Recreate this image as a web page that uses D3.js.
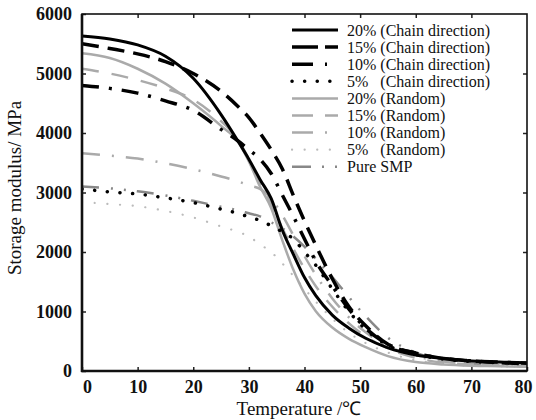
<!DOCTYPE html>
<html>
<head>
<meta charset="utf-8">
<script src="https://cdn.jsdelivr.net/npm/d3@7"></script>
<style>
html,body{margin:0;padding:0;background:#fff;}
svg{display:block;}
text{font-family:"Liberation Serif","Times New Roman",serif;fill:#111;}
</style>
</head>
<body>
<svg id="chart" width="536" height="420"></svg>
<script>
// ---- data ----
const temps = [0,5,10,15,20,25,28,30,32,34,36,38,40,42,45,48,51,55,60,65,70,75,80];
const chain20  = [5630,5580,5480,5290,4920,4310,3870,3560,3220,2900,2370,1960,1570,1270,940,720,550,390,270,210,170,150,140];
const chain15  = [5500,5420,5330,5200,5000,4700,4450,4260,4000,3720,3400,2950,2520,2120,1550,1080,760,450,300,210,170,140,120];
const chain10  = [4800,4750,4670,4540,4380,4060,3870,3720,3560,3320,2960,2600,2220,1850,1430,1040,720,450,300,210,170,150,130];
const chain5   = [3060,3010,2975,2910,2830,2720,2650,2590,2530,2440,2340,2220,2000,1780,1380,1000,700,430,280,200,160,140,130];
const random20 = [5340,5260,5080,4830,4500,4120,3860,3520,3100,2740,2200,1700,1300,1010,730,540,400,250,150,110,90,80,70];
const random15 = [5080,5000,4890,4750,4560,4200,3900,3560,3180,2800,2400,2050,1720,1430,1080,800,580,380,220,140,110,90,80];
const random10 = [3660,3620,3570,3490,3390,3270,3190,3120,3060,2900,2620,2280,1930,1620,1220,900,650,420,250,160,120,100,90];
const random5  = [2840,2805,2770,2690,2580,2430,2340,2260,2130,2000,1810,1600,1380,1170,880,640,470,310,180,120,90,80,70];
const pureSMP  = [3100,3070,3020,2950,2860,2760,2700,2650,2600,2500,2400,2260,2090,1890,1580,1240,920,560,310,180,120,90,80];

const seriesNames = ["20% (Chain direction)","15% (Chain direction)","10% (Chain direction)","5%   (Chain direction)",
  "20% (Random)","15% (Random)","10% (Random)","5%   (Random)","Pure SMP"];
const seriesValues = [chain20,chain15,chain10,chain5,random20,random15,random10,random5,pureSMP];
const xTicks = [0,10,20,30,40,50,60,70,80];
const yTicks = [0,1000,2000,3000,4000,5000,6000];
const xTitle = "Temperature /℃";
const yTitle = "Storage modulus/ MPa";

// ---- styles ----
const styles = [
  {color:"#000", width:3,   dash:null,               legendDash:null,           cap:"butt"},
  {color:"#000", width:3.5, dash:"17,9",             legendDash:"26,7",         cap:"butt"},
  {color:"#000", width:3.5, dash:"17,10,3,10",       legendDash:"21,12,2,12",   cap:"butt"},
  {color:"#000", width:3.5, dash:"0.1,12.6",         legendDash:"0.1,12.5",     cap:"round"},
  {color:"#aaa", width:2.5, dash:null,               legendDash:null,           cap:"butt"},
  {color:"#aaa", width:2.5, dash:"17,13",            legendDash:"21,12",        cap:"butt"},
  {color:"#aaa", width:2.5, dash:"18,12,2,12",       legendDash:"21,12,2,12",   cap:"butt"},
  {color:"#bbb", width:2.2, dash:"0.1,12.6",         legendDash:"0.1,12.5",     cap:"round"},
  {color:"#888", width:2.5, dash:"17,12,2,11,2,11",  legendDash:"19,11,2,11,2,11", cap:"butt"}
];

const svg = d3.select("#chart");
const L = 82, R = 527, T = 14, B = 371;
const x = d3.scaleLinear().domain([0,80]).range([L,R]);
const y = d3.scaleLinear().domain([0,6000]).range([B,T]);

svg.append("clipPath").attr("id","clip").append("rect")
  .attr("x",L).attr("y",T).attr("width",R-L).attr("height",B-T);

const line = d3.line().x((d,i)=>x(temps[i])).y(d=>y(d)).curve(d3.curveMonotoneX);

const lines = svg.append("g").attr("clip-path","url(#clip)");
for (let k = seriesValues.length-1; k >= 0; k--) {
  const s = styles[k];
  lines.append("path")
    .datum(seriesValues[k])
    .attr("d", line)
    .attr("fill","none")
    .attr("stroke", s.color)
    .attr("stroke-width", s.width)
    .attr("stroke-linecap", s.cap)
    .attr("stroke-dasharray", s.dash);
}

// axes
const fs = 18;
const fmt = d3.format("d");
const xAxis = svg.append("g").attr("transform",`translate(0,${B})`)
  .call(d3.axisBottom(x).tickValues(xTicks).tickFormat(fmt).tickSizeInner(-4).tickSizeOuter(0).tickPadding(9));
xAxis.attr("font-family",null).attr("font-size",null);
xAxis.selectAll("text").style("font-size",fs+"px").style("font-weight","bold")
  .attr("dx",(d)=> d===0 ? 5 : (d===80 ? -4 : 0));
const yAxis = svg.append("g").attr("transform",`translate(${L},0)`)
  .call(d3.axisLeft(y).tickValues(yTicks).tickFormat(fmt).tickSizeInner(-4).tickSizeOuter(0).tickPadding(10));
yAxis.attr("font-family",null).attr("font-size",null);
yAxis.selectAll("text").style("font-size",fs+"px").style("font-weight","bold");
svg.append("g").attr("transform",`translate(0,${T})`)
  .call(d3.axisTop(x).tickValues(xTicks.slice(1,-1)).tickSizeInner(-4).tickSizeOuter(0).tickFormat(""));
svg.append("g").attr("transform",`translate(${R},0)`)
  .call(d3.axisRight(y).tickValues(yTicks.slice(1,-1)).tickSizeInner(-4).tickSizeOuter(0).tickFormat(""));
svg.selectAll(".domain").remove();
svg.selectAll(".tick line").attr("stroke","#222").attr("stroke-width",1.5);

// frame
svg.append("rect").attr("x",L).attr("y",T).attr("width",R-L).attr("height",B-T)
  .attr("fill","none").attr("stroke","#111").attr("stroke-width",1.6);
svg.append("line").attr("x1",L).attr("x2",L).attr("y1",T).attr("y2",B+1).attr("stroke","#111").attr("stroke-width",2.6);
svg.append("line").attr("x1",L-1).attr("x2",R).attr("y1",B).attr("y2",B).attr("stroke","#111").attr("stroke-width",2.6);

// titles
svg.append("text").attr("x",299).attr("y",415).attr("text-anchor","middle")
  .style("font-size","19px").text(xTitle);
svg.append("text").attr("transform","translate(21,188) rotate(-90)").attr("text-anchor","middle")
  .style("font-size","19px").text(yTitle);

// legend
const lg = svg.append("g");
seriesNames.forEach((name,i)=>{
  const ry = 30 + i*17.1;
  const s = styles[i];
  lg.append("line").attr("x1",292).attr("x2",338).attr("y1",ry).attr("y2",ry)
    .attr("stroke",s.color).attr("stroke-width",s.width)
    .attr("stroke-linecap",s.cap).attr("stroke-dasharray",s.legendDash);
  lg.append("text").attr("x",347).attr("y",ry).attr("dy","0.35em")
    .style("font-size","16px").style("white-space","pre").attr("xml:space","preserve")
    .text(name);
});
</script>
</body>
</html>
